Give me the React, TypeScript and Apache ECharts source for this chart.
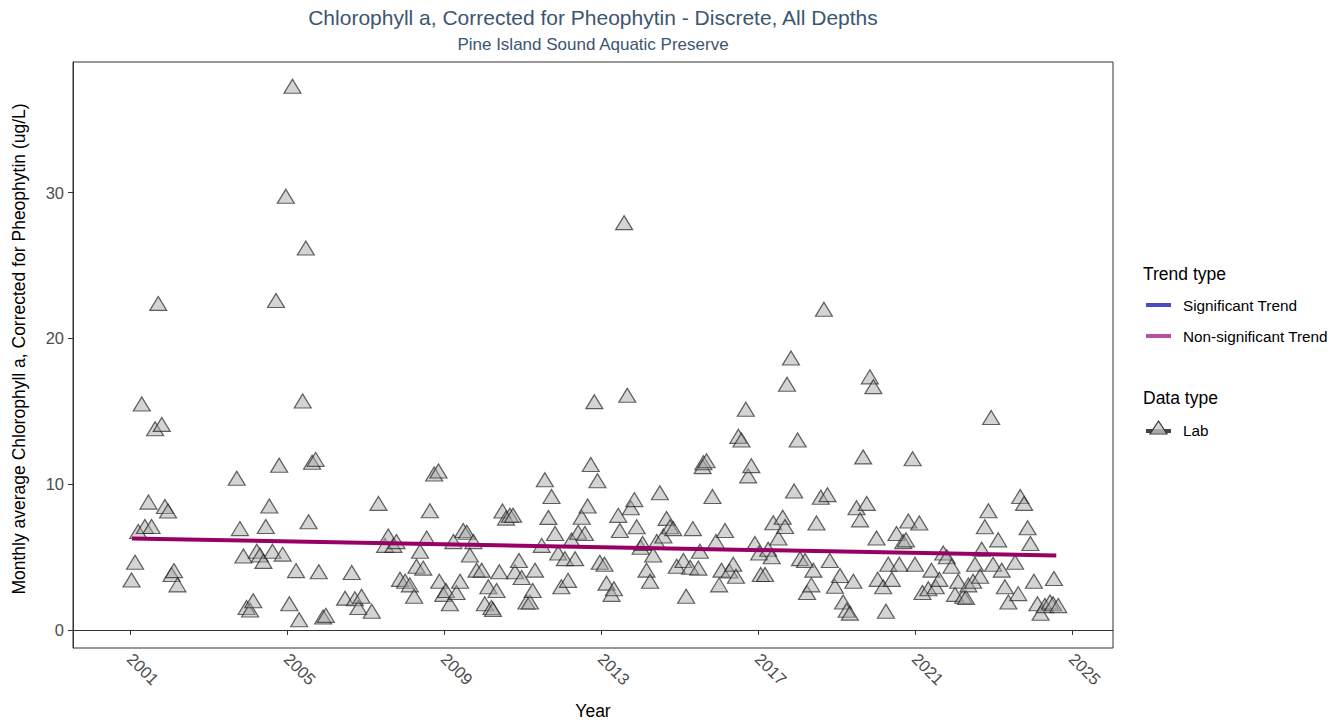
import React, { useEffect, useRef } from "react";
import * as echarts from "echarts";

// Monthly sample dates (decimal years) and average chlorophyll a (ug/L)
const sampleYears = [
  2001.04, 2001.13, 2001.21, 2001.3, 2001.38, 2001.47, 2001.55, 2001.64, 2001.72, 2001.81, 2001.89, 2001.97,
  2002.06, 2002.12, 2002.21,
  2003.72, 2003.8, 2003.89, 2003.97, 2004.06, 2004.14, 2004.23, 2004.31, 2004.4, 2004.46, 2004.55, 2004.63,
  2004.72, 2004.8, 2004.89, 2004.97, 2005.06, 2005.14, 2005.23, 2005.31, 2005.4, 2005.48, 2005.55, 2005.64,
  2005.73, 2005.81, 2005.92, 2005.99, 2006.48, 2006.65, 2006.73, 2006.82, 2006.9, 2007.16, 2007.33, 2007.5,
  2007.58, 2007.71, 2007.79, 2007.88, 2008.01, 2008.13, 2008.24, 2008.3, 2008.39, 2008.47, 2008.56, 2008.64,
  2008.75, 2008.86, 2008.88, 2008.98, 2009.05, 2009.15, 2009.24, 2009.32, 2009.41, 2009.49, 2009.58, 2009.66,
  2009.75, 2009.83, 2009.96, 2010.04, 2010.13, 2010.21, 2010.25, 2010.34, 2010.41, 2010.49, 2010.58, 2010.68,
  2010.76, 2010.81, 2010.91, 2010.98, 2011.1, 2011.19, 2011.26, 2011.32, 2011.49, 2011.57, 2011.66, 2011.74,
  2011.83, 2011.91, 2011.99, 2012.08, 2012.16, 2012.25, 2012.34, 2012.42, 2012.51, 2012.59, 2012.66, 2012.74,
  2012.83, 2012.91, 2012.97, 2013.09, 2013.14, 2013.27, 2013.33, 2013.44, 2013.48, 2013.59, 2013.67, 2013.76,
  2013.85, 2013.91, 2014.01, 2014.06, 2014.16, 2014.25, 2014.33, 2014.42, 2014.5, 2014.59, 2014.67, 2014.76,
  2014.84, 2014.93, 2015.1, 2015.17, 2015.27, 2015.34, 2015.48, 2015.52, 2015.59, 2015.61, 2015.69, 2015.84,
  2015.93, 2016.01, 2016.07, 2016.16, 2016.27, 2016.37, 2016.44, 2016.5, 2016.58, 2016.69, 2016.75, 2016.83,
  2016.92, 2017.03, 2017.07, 2017.18, 2017.26, 2017.35, 2017.39, 2017.52, 2017.63, 2017.69, 2017.74, 2017.84,
  2017.92, 2018.01, 2018.07, 2018.2, 2018.25, 2018.36, 2018.41, 2018.49, 2018.6, 2018.68, 2018.77, 2018.83,
  2018.96, 2019.09, 2019.17, 2019.26, 2019.34, 2019.43, 2019.51, 2019.6, 2019.68, 2019.77, 2019.85, 2019.94,
  2020.02, 2020.05, 2020.19, 2020.26, 2020.32, 2020.41, 2020.53, 2020.6, 2020.7, 2020.77, 2020.83, 2020.94,
  2021.0, 2021.11, 2021.19, 2021.34, 2021.42, 2021.53, 2021.62, 2021.72, 2021.81, 2021.93, 2022.02, 2022.1,
  2022.23, 2022.3, 2022.36, 2022.48, 2022.53, 2022.66, 2022.7, 2022.78, 2022.87, 2022.94, 2022.99, 2023.12,
  2023.21, 2023.29, 2023.38, 2023.55, 2023.63, 2023.68, 2023.78, 2023.87, 2023.94, 2024.03, 2024.12, 2024.2,
  2024.31, 2024.44, 2024.52, 2024.54, 2024.65,
];

const chlaValues = [
  3.43, 4.64, 6.75, 15.5, 7.1, 8.77, 7.1, 13.8, 22.4, 14.1, 8.47, 8.16,
  3.8, 4.07, 3.09,
  10.4, 6.95, 5.07, 1.54, 1.37, 2.0, 5.4, 5.14, 4.7, 7.1, 8.5, 5.4,
  22.6, 11.3, 5.2, 29.75, 1.8, 37.3, 4.07, 0.7, 15.7, 26.2, 7.42, 11.5,
  11.7, 3.99, 0.89, 1.0, 2.18, 3.94, 2.14, 1.54, 2.31, 1.28, 8.68, 5.8,
  6.44, 5.8, 6.06, 3.47, 3.34, 3.09, 2.31, 4.37, 5.4, 4.24, 6.3, 8.17,
  10.7, 10.9, 3.34, 2.44, 2.7, 1.8, 6.06, 2.57, 3.34, 6.82, 6.7, 5.14,
  6.06, 4.1, 4.1, 1.8, 2.96, 1.54, 1.41, 2.7, 3.99, 8.16, 7.67, 7.87,
  7.87, 3.99, 4.76, 3.6, 1.92, 1.92, 2.7, 4.1, 5.8, 10.3, 7.72, 9.15,
  6.62, 5.28, 2.96, 4.89, 3.4, 6.17, 4.89, 6.7, 7.73, 6.62, 8.5, 11.35,
  15.66, 10.23, 4.64, 4.5, 3.21, 2.44, 2.83, 7.86, 6.82, 27.94, 16.1, 8.38,
  8.94, 7.08, 5.67, 5.93, 4.1, 3.34, 5.14, 6.06, 9.41, 6.44, 7.65, 7.08,
  6.95, 4.37, 4.76, 2.31, 4.3, 6.95, 4.24, 5.4, 11.2, 11.47, 11.6, 9.15,
  6.06, 3.09, 4.1, 6.82, 4.04, 4.5, 3.68, 13.28, 13.03, 15.14, 10.57, 11.27,
  5.93, 5.28, 3.8, 3.8, 5.53, 5.02, 7.35, 6.31, 7.73, 7.09, 16.85, 18.65,
  9.53, 13.03, 4.89, 4.76, 2.57, 3.09, 4.1, 7.34, 9.1, 22.0, 9.28, 4.76,
  3.0, 3.73, 1.92, 1.35, 1.15, 3.34, 8.38, 7.55, 11.87, 8.68, 17.36, 16.69,
  6.31, 3.47, 2.96, 1.28, 4.5, 3.47, 6.62, 4.5, 6.06, 6.18, 7.47, 11.74,
  4.5, 7.34, 2.57, 2.83, 4.1, 2.96, 3.47, 5.28, 5.02, 4.37, 2.44, 3.34,
  2.31, 2.23, 3.09, 3.34, 4.5, 3.68, 5.54, 7.08, 8.17, 14.57, 4.5, 6.18,
  4.1, 2.96, 1.92, 4.64, 2.49, 9.15, 8.68, 7.01, 5.93, 3.34, 1.8, 1.14,
  1.67, 1.92, 1.8, 3.53, 1.67,
];

// Fitted trend (non-significant): start and end of the fitted line
const trendYears = [2001.05, 2024.6];
const trendValues = [6.28, 5.1];

const yearTicks = [2001, 2005, 2009, 2013, 2017, 2021, 2025];
const valueTicks = [0, 10, 20, 30];

const TITLE = "Chlorophyll a, Corrected for Pheophytin - Discrete, All Depths";
const SUBTITLE = "Pine Island Sound Aquatic Preserve";
const Y_TITLE = "Monthly average Chlorophyll a, Corrected for Pheophytin (ug/L)";
const FONT = "'Liberation Sans', Arial, sans-serif";

export default function App() {
  const ref = useRef<HTMLDivElement>(null);

  useEffect(() => {
    if (!ref.current) return;
    const chart = echarts.init(ref.current, null, { renderer: "svg" });

    const points = sampleYears.map((x, i) => [x, chlaValues[i]]);
    const trend = trendYears.map((x, i) => [x, trendValues[i]]);

    const gridLeft = 73;
    const gridTop = 62;
    const gridW = 1040;
    const gridH = 586;
    const center = gridLeft + gridW / 2;
    const legendX = 1143;

    chart.setOption({
      animation: false,
      textStyle: { fontFamily: FONT },
      grid: {
        left: gridLeft,
        top: gridTop,
        width: gridW,
        height: gridH,
        show: true,
        borderColor: "#333333",
        borderWidth: 1,
        backgroundColor: "#ffffff",
      },
      xAxis: {
        type: "value",
        min: 1999.548,
        max: 2026.045,
        splitLine: { show: false },
        axisLine: { show: true, lineStyle: { color: "#333333", width: 1 } },
        axisTick: {
          show: true,
          inside: false,
          length: 5,
          customValues: yearTicks,
          lineStyle: { color: "#333333", width: 1 },
        },
        axisLabel: {
          customValues: yearTicks,
          rotate: -45,
          margin: 8,
          color: "#4D4D4D",
          fontSize: 16.5,
          fontFamily: FONT,
          formatter: (v: number) => String(v),
        },
      },
      yAxis: {
        type: "value",
        min: -1.24,
        max: 38.96,
        splitLine: { show: false },
        axisLine: { show: true, lineStyle: { color: "#333333", width: 1 } },
        axisTick: {
          show: true,
          inside: false,
          length: 5,
          customValues: valueTicks,
          lineStyle: { color: "#333333", width: 1 },
        },
        axisLabel: {
          customValues: valueTicks,
          margin: 9,
          color: "#4D4D4D",
          fontSize: 16.5,
          fontFamily: FONT,
          formatter: (v: number) => String(v),
        },
      },
      series: [
        {
          type: "scatter",
          data: points,
          symbol: "triangle",
          symbolSize: [17, 14],
          itemStyle: {
            color: "rgba(165,165,165,0.6)",
            borderColor: "rgba(30,30,30,0.85)",
            borderWidth: 1.2,
          },
          z: 2,
        },
        {
          type: "line",
          data: trend,
          showSymbol: false,
          symbol: "none",
          lineStyle: { color: "#990066", width: 4 },
          z: 3,
        },
      ],
      graphic: [
        {
          type: "text",
          x: center,
          y: 17,
          style: {
            text: TITLE,
            fill: "#3D5570",
            font: `21px ${FONT}`,
            textAlign: "center",
            textVerticalAlign: "middle",
          },
        },
        {
          type: "text",
          x: center,
          y: 44,
          style: {
            text: SUBTITLE,
            fill: "#3D5570",
            font: `17px ${FONT}`,
            textAlign: "center",
            textVerticalAlign: "middle",
          },
        },
        {
          type: "text",
          x: 19,
          y: gridTop + gridH / 2 - 6,
          rotation: Math.PI / 2,
          style: {
            text: Y_TITLE,
            fill: "#000000",
            font: `17.5px ${FONT}`,
            textAlign: "center",
            textVerticalAlign: "middle",
          },
        },
        {
          type: "text",
          x: center,
          y: 711,
          style: {
            text: "Year",
            fill: "#000000",
            font: `17.5px ${FONT}`,
            textAlign: "center",
            textVerticalAlign: "middle",
          },
        },
        // Legend: trend type
        {
          type: "text",
          x: legendX,
          y: 274,
          style: { text: "Trend type", fill: "#000000", font: `17.5px ${FONT}`, textVerticalAlign: "middle" },
        },
        {
          type: "line",
          shape: { x1: 1146, y1: 305, x2: 1171, y2: 305 },
          style: { stroke: "#4B4BC4", lineWidth: 4 },
        },
        {
          type: "text",
          x: 1183,
          y: 305,
          style: { text: "Significant Trend", fill: "#000000", font: `15.3px ${FONT}`, textVerticalAlign: "middle" },
        },
        {
          type: "line",
          shape: { x1: 1146, y1: 336, x2: 1171, y2: 336 },
          style: { stroke: "#B4529C", lineWidth: 4 },
        },
        {
          type: "text",
          x: 1183,
          y: 336,
          style: { text: "Non-significant Trend", fill: "#000000", font: `15.3px ${FONT}`, textVerticalAlign: "middle" },
        },
        // Legend: data type
        {
          type: "text",
          x: legendX,
          y: 398,
          style: { text: "Data type", fill: "#000000", font: `17.5px ${FONT}`, textVerticalAlign: "middle" },
        },
        {
          type: "line",
          shape: { x1: 1146, y1: 431, x2: 1171, y2: 431 },
          style: { stroke: "#444444", lineWidth: 4 },
        },
        {
          type: "polygon",
          shape: { points: [[1158.5, 421], [1167, 434], [1150, 434]] },
          style: { fill: "rgba(200,200,200,0.75)", stroke: "#333333", lineWidth: 1.2 },
        },
        {
          type: "text",
          x: 1183,
          y: 430,
          style: { text: "Lab", fill: "#000000", font: `15.3px ${FONT}`, textVerticalAlign: "middle" },
        },
      ],
    });

    return () => chart.dispose();
  }, []);

  return (
    <div
      ref={ref}
      style={{ position: "absolute", left: 0, top: 0, width: 1340, height: 725, background: "#ffffff" }}
    />
  );
}
